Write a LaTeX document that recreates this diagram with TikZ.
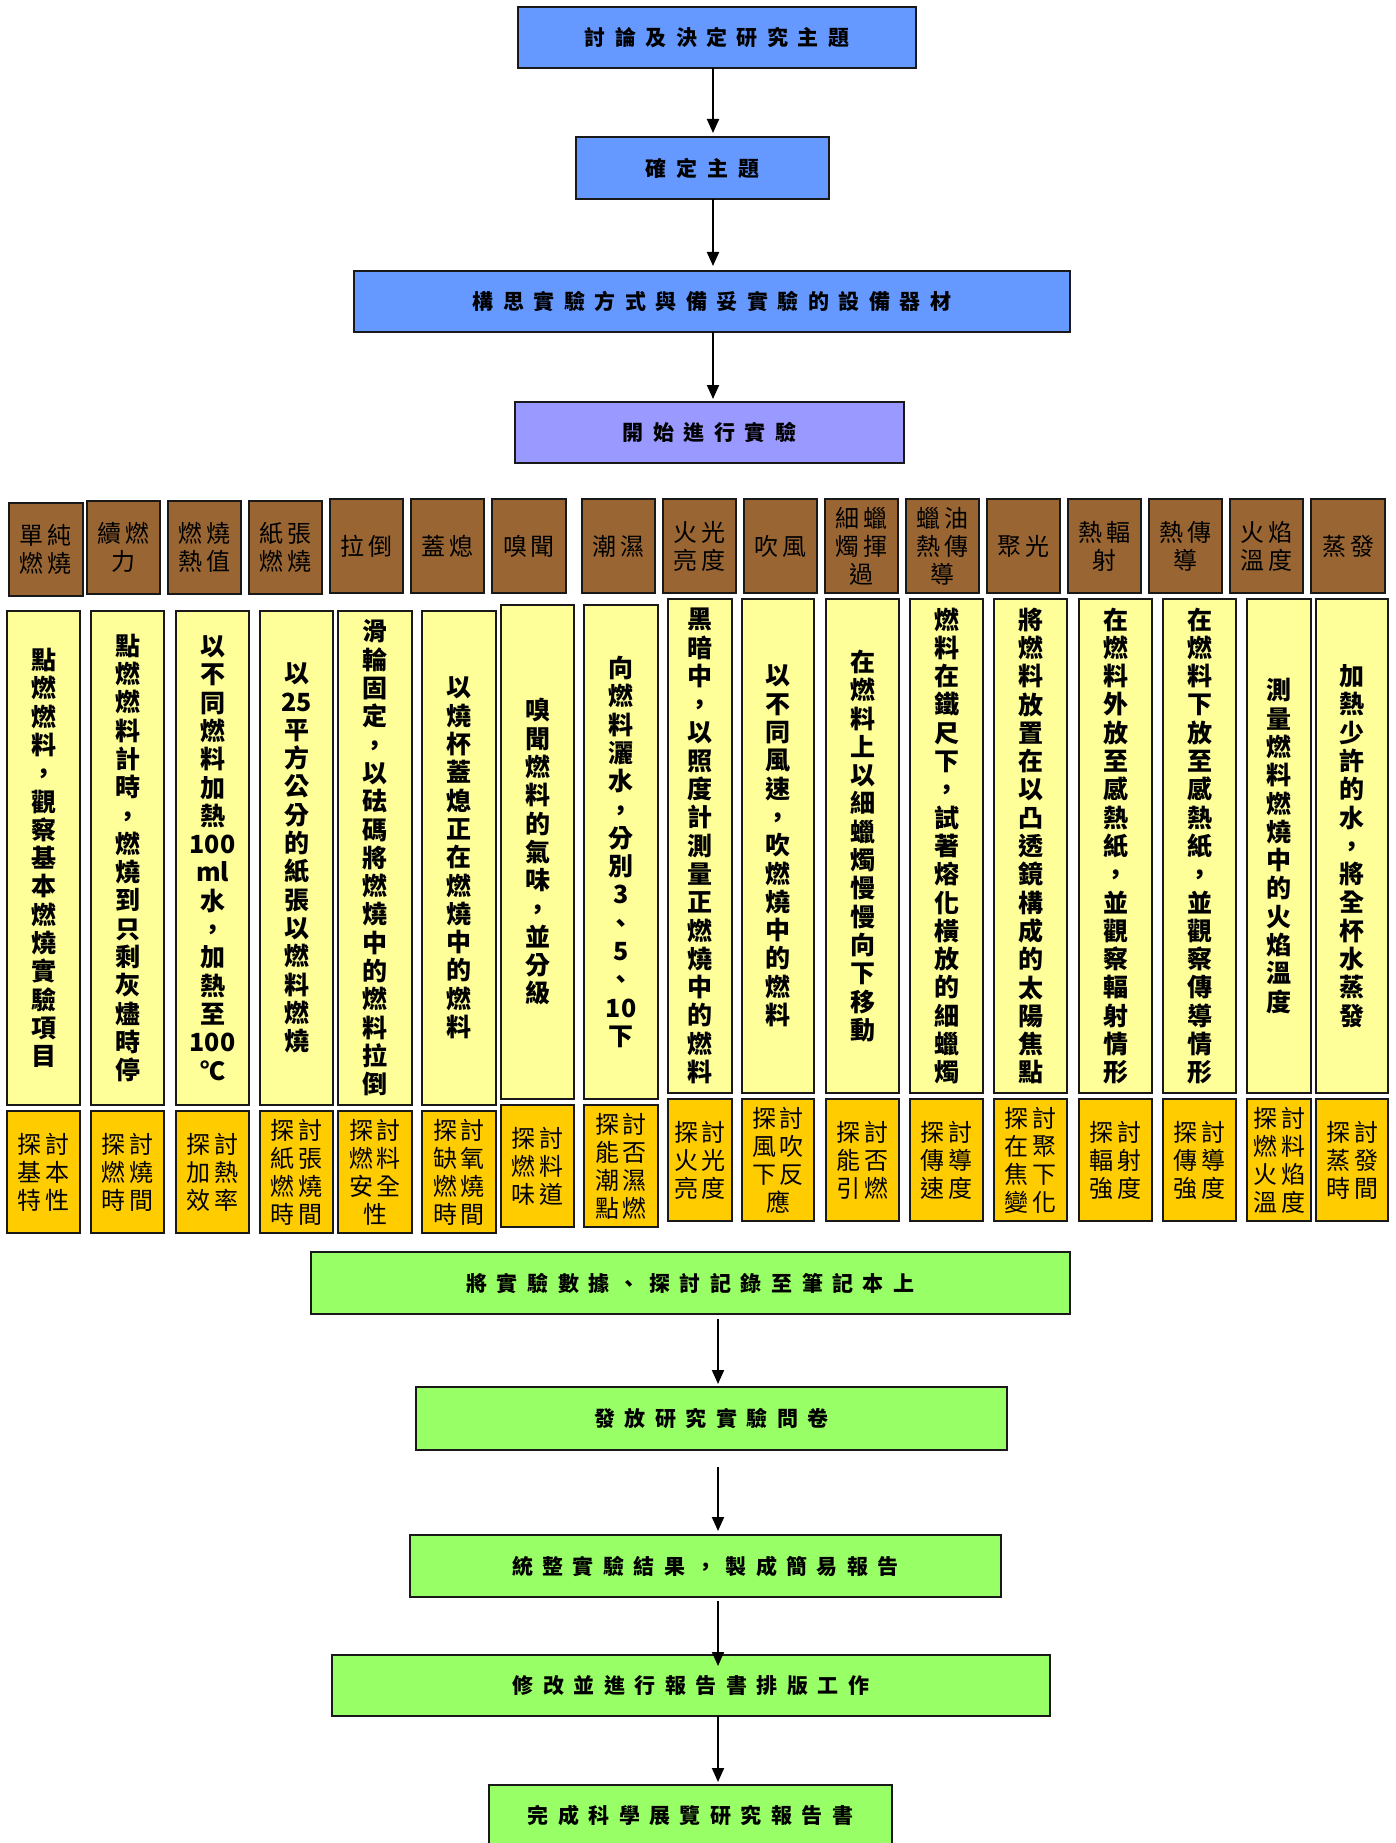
\documentclass[tikz,border=0pt]{standalone}
\usepackage{fontspec}
\setmainfont{Noto Sans CJK TC}
\usetikzlibrary{arrows.meta,calc}

\definecolor{flowblue}{HTML}{6699FF}
\definecolor{flowviolet}{HTML}{9999FF}
\definecolor{topicbrown}{HTML}{996633}
\definecolor{methodyellow}{HTML}{FFFF99}
\definecolor{goalorange}{HTML}{FFCC00}
\definecolor{flowgreen}{HTML}{99FF66}

\makeatletter
% one character (or braced group) per line, centred in a column
\newcommand\vtext[1]{\vbox{\baselineskip=28.3pt\lineskiplimit=-100pt
  \@tfor\vt@c:=#1\do{\hbox to 60pt{\hss\vt@c\hss}}}}
% characters set with extra space between them
\newcommand\spaced[2]{\def\sp@f{1}\@tfor\sp@c:=#2\do{\ifx\sp@f\@empty\kern#1\fi\sp@c\def\sp@f{}}}
\makeatother

% \putbox{name}{x1}{y1}{x2}{y2}{style}{text}
\newcommand\putbox[7]{\node[#6,anchor=north west,minimum width={(#4-#2)*1pt},minimum height={(#5-#3)*1pt}] (#1) at (#2,#3) {#7};}

\tikzset{
  box/.style={draw=black!90, line width=1.6pt, inner sep=0pt, outer sep=0pt},
  flow/.style={box, font=\fontsize{21}{24}\selectfont\bfseries},
  topic/.style={box, line width=1.8pt, fill=topicbrown, align=center, font=\fontsize{24}{28}\selectfont},
  method/.style={box, fill=methodyellow, font=\fontsize{25}{28.3}\selectfont\bfseries},
  goal/.style={box, fill=goalorange, align=center, font=\fontsize{24}{28}\selectfont},
  flowarrow/.style={line width=2pt, -{Triangle[length=14pt,width=12pt]}}
}

\begin{document}
\begin{tikzpicture}[x=1pt,y=-1pt]
\path[use as bounding box] (0,0) rectangle (1395,1843);
\clip (0,0) rectangle (1395,1843);
\fill[white] (0,0) rectangle (1395,1843);

% preparation steps
\putbox{s1}{518}{7}{916}{68}{flow, fill=flowblue}{\spaced{9.5pt}{討論及決定研究主題}}
\putbox{s2}{576}{137}{829}{199}{flow, fill=flowblue}{\spaced{10pt}{確定主題}}
\putbox{s3}{354}{271}{1070}{332}{flow, fill=flowblue}{\spaced{9.5pt}{構思實驗方式與備妥實驗的設備器材}}
\putbox{s4}{515}{402}{904}{463}{flow, fill=flowviolet}{\spaced{9.5pt}{開始進行實驗}}

% experiment topics
\putbox{t1}{9}{503}{83}{596}{topic}{單\,純\\燃\,燒}
\putbox{t2}{87}{501}{160}{594}{topic}{續\,燃\\力}
\putbox{t3}{168}{501}{241}{594}{topic}{燃\,燒\\熱\,值}
\putbox{t4}{249}{501}{322}{594}{topic}{紙\,張\\燃\,燒}
\putbox{t5}{330}{499}{403}{593}{topic}{拉\,倒}
\putbox{t6}{411}{499}{484}{593}{topic}{蓋\,熄}
\putbox{t7}{492}{499}{566}{593}{topic}{嗅\,聞}
\putbox{t8}{582}{499}{655}{593}{topic}{潮\,濕}
\putbox{t9}{663}{499}{736}{593}{topic}{火\,光\\亮\,度}
\putbox{t10}{744}{499}{817}{593}{topic}{吹\,風}
\putbox{t11}{825}{499}{898}{593}{topic}{細\,蠟\\燭\,揮\\過}
\putbox{t12}{906}{499}{979}{593}{topic}{蠟\,油\\熱\,傳\\導}
\putbox{t13}{987}{499}{1060}{593}{topic}{聚\,光}
\putbox{t14}{1068}{499}{1141}{593}{topic}{熱\,輻\\射}
\putbox{t15}{1149}{499}{1222}{593}{topic}{熱\,傳\\導}
\putbox{t16}{1230}{499}{1303}{593}{topic}{火\,焰\\溫\,度}
\putbox{t17}{1311}{499}{1385}{593}{topic}{蒸\,發}

% methods
\putbox{m1}{7}{611}{80}{1105}{method}{\vtext{點燃燃料，觀察基本燃燒實驗項目}}
\putbox{m2}{91}{611}{164}{1105}{method}{\vtext{點燃燃料計時，燃燒到只剩灰燼時停}}
\putbox{m3}{176}{611}{249}{1105}{method}{\vtext{以不同燃料加熱{100}{ml}水，加熱至{100}℃}}
\putbox{m4}{260}{611}{333}{1105}{method}{\vtext{以{25}平方公分的紙張以燃料燃燒}}
\putbox{m5}{338}{611}{412}{1105}{method}{\vtext{滑輪固定，以砝碼將燃燒中的燃料拉倒}}
\putbox{m6}{422}{611}{496}{1105}{method}{\vtext{以燒杯蓋熄正在燃燒中的燃料}}
\putbox{m7}{501}{605}{574}{1099}{method}{\vtext{嗅聞燃料的氣味，並分級}}
\putbox{m8}{584}{605}{658}{1099}{method}{\vtext{向燃料灑水，分別3、5、{10}下}}
\putbox{m9}{668}{599}{732}{1093}{method}{\vtext{黑暗中，以照度計測量正燃燒中的燃料}}
\putbox{m10}{742}{599}{814}{1093}{method}{\vtext{以不同風速，吹燃燒中的燃料}}
\putbox{m11}{826}{599}{899}{1093}{method}{\vtext{在燃料上以細蠟燭慢慢向下移動}}
\putbox{m12}{910}{599}{983}{1093}{method}{\vtext{燃料在鐵尺下，試著熔化橫放的細蠟燭}}
\putbox{m13}{994}{599}{1067}{1093}{method}{\vtext{將燃料放置在以凸透鏡構成的太陽焦點}}
\putbox{m14}{1079}{599}{1152}{1093}{method}{\vtext{在燃料外放至感熱紙，並觀察輻射情形}}
\putbox{m15}{1163}{599}{1236}{1093}{method}{\vtext{在燃料下放至感熱紙，並觀察傳導情形}}
\putbox{m16}{1247}{599}{1311}{1093}{method}{\vtext{測量燃料燃燒中的火焰溫度}}
\putbox{m17}{1316}{599}{1388}{1093}{method}{\vtext{加熱少許的水，將全杯水蒸發}}

% goals
\putbox{g1}{7}{1111}{80}{1233}{goal}{探\,討\\基\,本\\特\,性}
\putbox{g2}{91}{1111}{164}{1233}{goal}{探\,討\\燃\,燒\\時\,間}
\putbox{g3}{176}{1111}{249}{1233}{goal}{探\,討\\加\,熱\\效\,率}
\putbox{g4}{260}{1111}{333}{1233}{goal}{探\,討\\紙\,張\\燃\,燒\\時\,間}
\putbox{g5}{338}{1111}{412}{1233}{goal}{探\,討\\燃\,料\\安\,全\\性}
\putbox{g6}{422}{1111}{496}{1233}{goal}{探\,討\\缺\,氧\\燃\,燒\\時\,間}
\putbox{g7}{501}{1105}{574}{1227}{goal}{探\,討\\燃\,料\\味\,道}
\putbox{g8}{584}{1105}{658}{1227}{goal}{探\,討\\能\,否\\潮\,濕\\點\,燃}
\putbox{g9}{668}{1099}{732}{1221}{goal}{探\,討\\火\,光\\亮\,度}
\putbox{g10}{742}{1099}{814}{1221}{goal}{探\,討\\風\,吹\\下\,反\\應}
\putbox{g11}{826}{1099}{899}{1221}{goal}{探\,討\\能\,否\\引\,燃}
\putbox{g12}{910}{1099}{983}{1221}{goal}{探\,討\\傳\,導\\速\,度}
\putbox{g13}{994}{1099}{1067}{1221}{goal}{探\,討\\在\,聚\\焦\,下\\變\,化}
\putbox{g14}{1079}{1099}{1152}{1221}{goal}{探\,討\\輻\,射\\強\,度}
\putbox{g15}{1163}{1099}{1236}{1221}{goal}{探\,討\\傳\,導\\強\,度}
\putbox{g16}{1247}{1099}{1311}{1221}{goal}{探\,討\\燃\,料\\火\,焰\\溫\,度}
\putbox{g17}{1316}{1099}{1388}{1221}{goal}{探\,討\\蒸\,發\\時\,間}

% reporting steps
\putbox{f1}{311}{1252}{1070}{1314}{flow, fill=flowgreen}{\spaced{9.5pt}{將實驗數據、探討記錄至筆記本上}}
\putbox{f2}{416}{1387}{1007}{1450}{flow, fill=flowgreen}{\spaced{9.5pt}{發放研究實驗問卷}}
\putbox{f3}{410}{1535}{1001}{1597}{flow, fill=flowgreen}{\spaced{9.5pt}{統整實驗結果，製成簡易報告}}
\putbox{f4}{332}{1655}{1050}{1716}{flow, fill=flowgreen}{\spaced{9.5pt}{修改並進行報告書排版工作}}
\putbox{f5}{489}{1785}{892}{1846}{flow, fill=flowgreen}{\spaced{9.5pt}{完成科學展覽研究報告書}}

% connectors
\coordinate (ux) at (713,0);
\coordinate (lx) at (718,0);
\draw[flowarrow] (s1.south -| ux) -- ($(s2.north -| ux)+(0,-4)$);
\draw[flowarrow] (s2.south -| ux) -- ($(s3.north -| ux)+(0,-5)$);
\draw[flowarrow] (s3.south -| ux) -- ($(s4.north -| ux)+(0,-3)$);
\draw[flowarrow] ($(f1.south -| lx)+(0,5)$) -- ($(f2.north -| lx)+(0,-3)$);
\draw[flowarrow] ($(f2.south -| lx)+(0,17)$) -- ($(f3.north -| lx)+(0,-4)$);
\draw[flowarrow] ($(f3.south -| lx)+(0,4)$) -- ($(f4.north -| lx)+(0,11)$);
\draw[flowarrow] (f4.south -| lx) -- ($(f5.north -| lx)+(0,-3)$);
\end{tikzpicture}
\end{document}
